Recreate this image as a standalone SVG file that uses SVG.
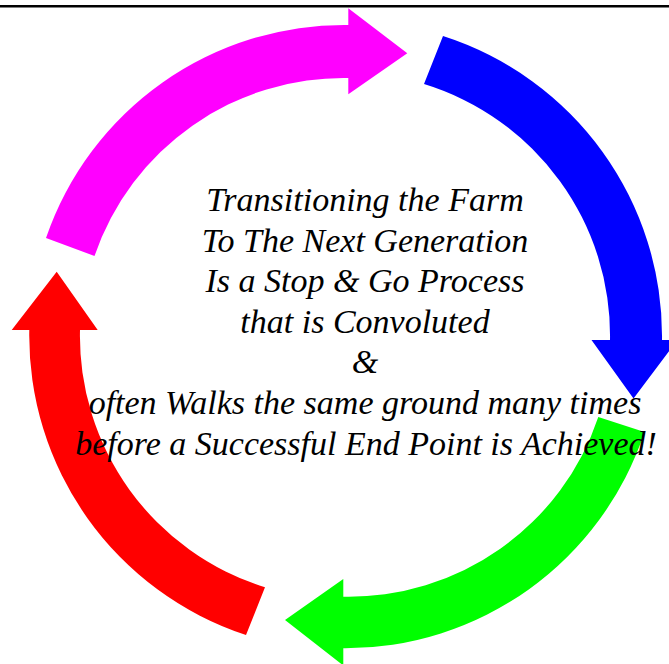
<svg xmlns="http://www.w3.org/2000/svg" width="669" height="664" viewBox="0 0 669 664">
  <style>
    .cap { font-family: "Liberation Serif", "Times New Roman", serif; font-style: italic; font-size: 34px; fill: #000; text-anchor: middle; }
  </style>
  <rect width="669" height="664" fill="#fff"/>
  <line id="top-rule" x1="0" y1="6.2" x2="669" y2="6.2" stroke="#000" stroke-width="2.6"/>
  <g id="connectors">
    <g id="arrow-magenta">
      <path fill="#FF00FF" d="M 94.5,256 L 46,238 A 315 315 0 0 1 348.3,25 L 348.3,8.3 L 407.3,53.3 L 348.3,94.3 L 348.3,78 A 263 263 0 0 0 94.5,256 Z"/>
    </g>
    <g id="arrow-blue">
      <path fill="#0000FF" d="M 424,84 L 443,36 A 315 315 0 0 1 662,340 L 677.5,340 L 633.5,398.5 L 591.5,340 L 610,340 A 263 263 0 0 0 424,84 Z"/>
    </g>
    <g id="arrow-green">
      <path fill="#00FF00" d="M 598.3,417 L 644.5,432 A 315 315 0 0 1 343.3,648.3 L 343.3,665.5 L 285,620 L 343.3,579 L 343.3,596.7 A 263 263 0 0 0 598.3,417 Z"/>
    </g>
    <g id="arrow-red">
      <path fill="#FF0000" d="M 265,587.3 L 246,635 A 315 315 0 0 1 29.3,330 L 11.7,330 L 56.7,271.7 L 97.7,330 L 80,330 A 263 263 0 0 0 265,587.3 Z"/>
    </g>
  </g>
  <g id="caption">
    <text class="cap" x="365" y="211">Transitioning the Farm</text>
    <text class="cap" x="365" y="251.5">To The Next Generation</text>
    <text class="cap" x="365" y="292">Is a Stop &amp; Go Process</text>
    <text class="cap" x="365" y="332.5">that is Convoluted</text>
    <text class="cap" x="365" y="373">&amp;</text>
    <text class="cap" x="365" y="414">often Walks the same ground many times</text>
    <text class="cap" x="366" y="455">before a Successful End Point is Achieved!</text>
  </g>
</svg>
